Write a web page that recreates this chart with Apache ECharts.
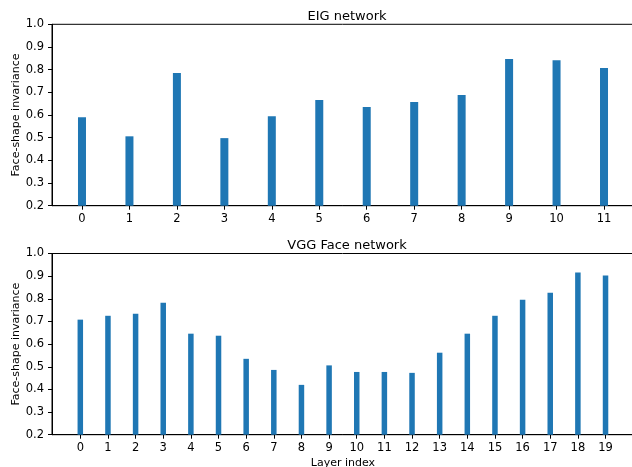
<!DOCTYPE html>
<html>
<head>
<meta charset="utf-8">
<script src="https://cdn.jsdelivr.net/npm/echarts@6/dist/echarts.min.js"></script>
<style>
  html, body { margin: 0; padding: 0; background: #fff; }
  #chart { width: 632px; height: 467px; }
</style>
</head>
<body>
<div id="chart"></div>
<script>
// layer indices
const eigLayers = [0, 1, 2, 3, 4, 5, 6, 7, 8, 9, 10, 11]
const vggLayers = [0, 1, 2, 3, 4, 5, 6, 7, 8, 9, 10, 11, 12, 13, 14, 15, 16, 17, 18, 19]

// face-shape invariance per layer
const eigValues = [0.590, 0.506, 0.785, 0.498, 0.595, 0.666, 0.635, 0.657, 0.688, 0.847, 0.842, 0.807]
const vggValues = [0.708, 0.725, 0.734, 0.783, 0.646, 0.637, 0.535, 0.486, 0.420, 0.506,
  0.477, 0.477, 0.473, 0.562, 0.646, 0.725, 0.796, 0.827, 0.916, 0.903]

const titles = ['EIG network', 'VGG Face network']
const yName = 'Face-shape invariance'
const xName = 'Layer index'

const font = 'DejaVu Sans'
const barColor = '#1f77b4'

const chart = echarts.init(document.getElementById('chart'), null, { renderer: 'canvas' })

function xAxisFor(gridIndex, ticks, min, max, name) {
  return {
    type: 'value',
    gridIndex: gridIndex,
    min: min,
    max: max,
    name: name,
    nameLocation: 'middle',
    nameGap: 23,
    nameMoveOverlap: false,
    nameTextStyle: { fontFamily: font, fontSize: 11, color: '#000' },
    axisLine: { show: true, onZero: false, lineStyle: { color: '#000', width: 1 } },
    axisTick: { show: true, inside: false, length: 4, customValues: ticks, lineStyle: { color: '#000' } },
    axisLabel: {
      customValues: ticks,
      margin: 7,
      fontFamily: font,
      fontSize: 11.5,
      color: '#000'
    },
    splitLine: { show: false }
  }
}

function yAxisFor(gridIndex) {
  return {
    type: 'value',
    gridIndex: gridIndex,
    min: 0.2,
    max: 1.0,
    interval: 0.1,
    name: yName,
    nameLocation: 'middle',
    nameRotate: 90,
    nameGap: 30,
    nameMoveOverlap: false,
    nameTextStyle: { fontFamily: font, fontSize: 11, color: '#000' },
    axisLine: { show: true, onZero: false, lineStyle: { color: '#000', width: 1 } },
    axisTick: { show: true, inside: false, length: 4, lineStyle: { color: '#000' } },
    axisLabel: {
      margin: 8,
      fontFamily: font,
      fontSize: 11.5,
      color: '#000',
      formatter: v => v.toFixed(1)
    },
    splitLine: { show: false }
  }
}

const gridBase = {
  left: 52, width: 582,
  containLabel: false,
  outerBoundsMode: 'none',
  show: true, borderColor: '#000', borderWidth: 1
}

const option = {
  animation: false,
  backgroundColor: '#fff',
  title: [
    { text: titles[0], left: 342, top: 5, textAlign: 'center',
      textStyle: { fontFamily: font, fontSize: 13, fontWeight: 'normal', color: '#000' } },
    { text: titles[1], left: 342, top: 234, textAlign: 'center',
      textStyle: { fontFamily: font, fontSize: 13, fontWeight: 'normal', color: '#000' } }
  ],
  grid: [
    Object.assign({}, gridBase, { top: 24.3, height: 181.4 }),
    Object.assign({}, gridBase, { top: 253.5, height: 181.2 })
  ],
  xAxis: [
    xAxisFor(0, eigLayers, -0.632, 11.632, ''),
    xAxisFor(1, vggLayers, -1.024, 20.03, xName)
  ],
  yAxis: [yAxisFor(0), yAxisFor(1)],
  series: [
    {
      type: 'bar',
      xAxisIndex: 0,
      yAxisIndex: 0,
      barWidth: 8,
      itemStyle: { color: barColor },
      data: eigLayers.map((l, i) => [l, eigValues[i]])
    },
    {
      type: 'bar',
      xAxisIndex: 1,
      yAxisIndex: 1,
      barWidth: 5.5,
      itemStyle: { color: barColor },
      data: vggLayers.map((l, i) => [l, vggValues[i]])
    }
  ]
}

chart.setOption(option)
</script>
</body>
</html>
